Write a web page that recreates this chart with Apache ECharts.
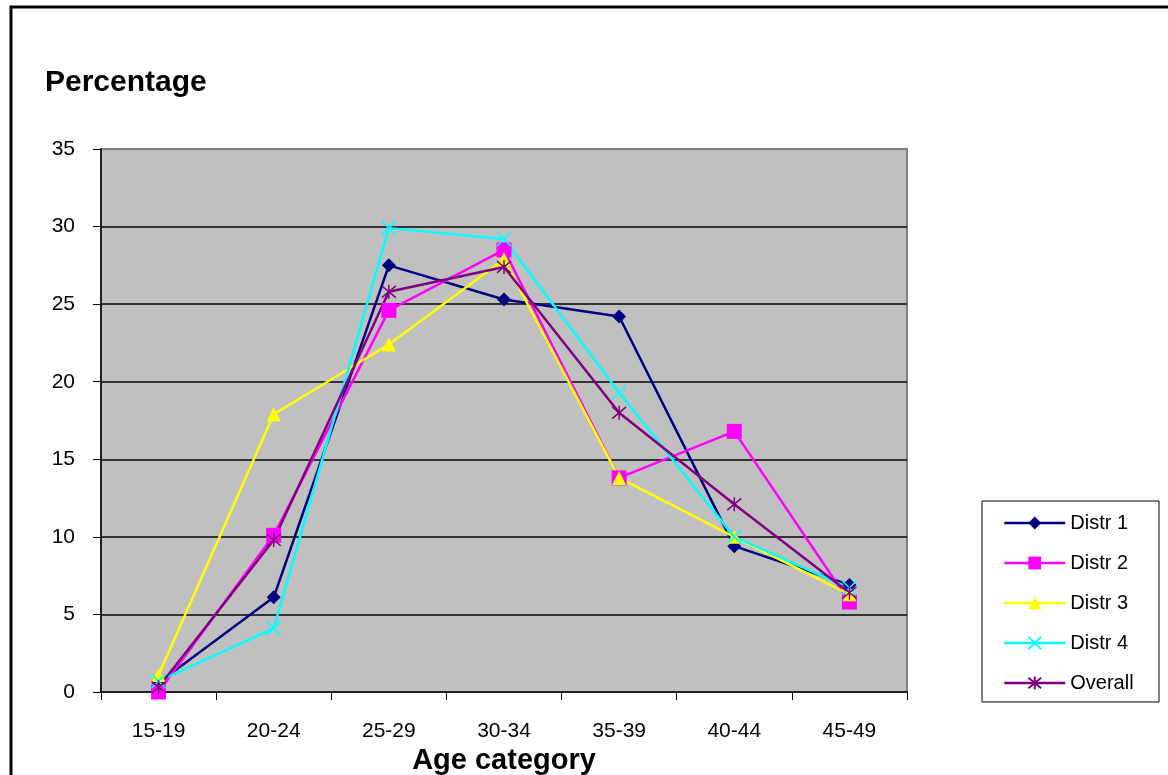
<!DOCTYPE html>
<html>
<head>
<meta charset="utf-8">
<script src="https://cdn.jsdelivr.net/npm/echarts@6/dist/echarts.min.js"></script>
<style>html,body{margin:0;padding:0;background:#fff}#c{width:1168px;height:775px}</style>
</head>
<body>
<div id="c"></div>
<script>
const categories = ['15-19', '20-24', '25-29', '30-34', '35-39', '40-44', '45-49'];
const distr1 = [0.6, 6.1, 27.5, 25.3, 24.2, 9.4, 6.9];
const distr2 = [0.0, 10.1, 24.6, 28.5, 13.8, 16.8, 5.8];
const distr3 = [1.1, 17.9, 22.4, 27.9, 13.8, 10.0, 6.3];
const distr4 = [0.7, 4.1, 29.9, 29.2, 19.3, 10.0, 6.7];
const overall = [0.3, 9.8, 25.8, 27.4, 18.0, 12.1, 6.4];
const yTicks = { min: 0, max: 35, interval: 5 };

const FONT = '"Liberation Sans", Arial, sans-serif';
const XPATH = 'path://M0,0L10,10M10,0L0,10';
const STARPATH = 'path://M0,0L10,10M10,0L0,10M5,-1L5,11';

function mk(name, data, color, symbol, size, stroke) {
  const s = {
    name, type: 'line', data, symbol, symbolSize: size,
    lineStyle: { color, width: 2.5 },
    itemStyle: { color },
    emphasis: { disabled: true },
    z: 3
  };
  if (stroke) {
    s.itemStyle = { color: 'rgba(0,0,0,0)', borderColor: color, borderWidth: 1.5 };
  }
  return s;
}

const chart = echarts.init(document.getElementById('c'));
chart.setOption({
  animation: false,
  backgroundColor: '#fff',
  title: {
    text: 'Percentage', left: 40, top: 63,
    textStyle: { fontFamily: FONT, fontSize: 30, fontWeight: 'bold', color: '#000' }
  },
  grid: {
    left: 101, right: 261, top: 149, bottom: 83,
    outerBoundsMode: 'none', containLabel: false,
    show: true, backgroundColor: '#C0C0C0', borderColor: '#808080', borderWidth: 2
  },
  legend: {
    orient: 'vertical', left: 998, top: 508,
    itemWidth: 61, itemHeight: 16, itemGap: 20,
    lineStyle: { width: 2.5 },
    textStyle: { fontFamily: FONT, fontSize: 20, color: '#000' },
    data: ['Distr 1', 'Distr 2', 'Distr 3', 'Distr 4', 'Overall']
  },
  graphic: [
    { type: 'rect', shape: { x: 11, y: 7, width: 1300, height: 900 },
      style: { fill: 'none', stroke: '#000', lineWidth: 3 }, silent: true },
    { type: 'rect', shape: { x: 982, y: 501, width: 177, height: 201 },
      style: { fill: 'none', stroke: '#000', lineWidth: 1 }, silent: true }
  ],
  xAxis: {
    type: 'category', data: categories, boundaryGap: true,
    name: 'Age category', nameLocation: 'middle', nameGap: 52,
    nameTextStyle: { fontFamily: FONT, fontSize: 29, fontWeight: 'bold', color: '#000' },
    axisLine: { lineStyle: { color: '#000', width: 1.5 } },
    axisTick: { show: true, length: 8, inside: false, lineStyle: { color: '#000' } },
    axisLabel: { fontFamily: FONT, fontSize: 21, color: '#000', margin: 29 },
    splitLine: { show: false }
  },
  yAxis: {
    type: 'value', min: yTicks.min, max: yTicks.max, interval: yTicks.interval,
    axisLine: { show: true, lineStyle: { color: '#000', width: 1.5 } },
    axisTick: { show: true, length: 8, lineStyle: { color: '#000' } },
    axisLabel: { fontFamily: FONT, fontSize: 21, color: '#000', margin: 26 },
    splitLine: { show: true, showMinLine: false, showMaxLine: false, lineStyle: { color: '#333', width: 2 } }
  },
  series: [
    mk('Distr 1', distr1, '#000080', 'diamond', 14),
    mk('Distr 2', distr2, '#FF00FF', 'rect', 15),
    mk('Distr 3', distr3, '#FFFF00', 'triangle', 14),
    mk('Distr 4', distr4, '#00FFFF', XPATH, 14, true),
    mk('Overall', overall, '#800080', STARPATH, 14, true)
  ]
});
</script>
</body>
</html>
